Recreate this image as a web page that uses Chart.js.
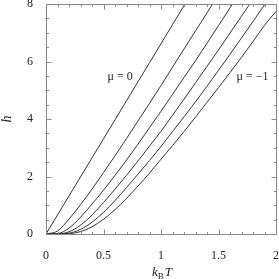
<!DOCTYPE html>
<html><head><meta charset="utf-8">
<script src="https://cdn.jsdelivr.net/npm/chart.js@4.4.1/dist/chart.umd.min.js"></script>
<style>html,body{margin:0;padding:0;background:#fff}#wrap{width:279px;height:279px}</style>
</head><body><div id="wrap"><canvas id="c" width="279" height="279"></canvas></div>
<script>
const temperatures = [0,0.1,0.2,0.3,0.4,0.5,0.6,0.7,0.8,0.9,1.0,1.1,1.2,1.3,1.4,1.5,1.6,1.7,1.8,1.9,2.0];
const hMu0  = [0,0.662,1.324,1.986,2.648,3.31,3.972,4.634,5.296,5.958,6.62,7.282,7.944,8.606,null,null,null,null,null,null,null];
const hMu02 = [0,0.103,0.520,1.019,1.562,2.135,2.721,3.316,3.932,4.546,5.164,5.800,6.435,7.065,7.690,8.320,null,null,null,null,null];
const hMu04 = [0,0.014,0.205,0.582,1.041,1.523,2.038,2.570,3.125,3.698,4.270,4.857,5.442,6.028,6.633,7.249,7.865,8.480,null,null,null];
const hMu06 = [0,0.002,0.077,0.308,0.662,1.094,1.561,2.039,2.542,3.056,3.575,4.129,4.687,5.260,5.832,6.405,6.991,7.576,8.162,null,null];
const hMu08 = [0,0,0.028,0.160,0.410,0.752,1.164,1.613,2.081,2.556,3.045,3.561,4.075,4.596,5.139,5.695,6.249,6.820,7.395,7.968,8.540];
const hMu10 = [0,0,0.010,0.082,0.252,0.513,0.846,1.237,1.668,2.121,2.602,3.073,3.563,4.062,4.582,5.094,5.614,6.145,6.697,7.257,7.74];
const seriesList = [hMu0,hMu02,hMu04,hMu06,hMu08,hMu10];
const xTickLabels = [0,0.5,1,1.5,2];
const yTickLabels = [0,2,4,6,8];
const xMinorTicks = [0.1,0.2,0.3,0.4,0.6,0.7,0.8,0.9,1.1,1.2,1.3,1.4,1.6,1.7,1.8,1.9];
const yMinorTicks = [0.5,1,1.5,2.5,3,3.5,4.5,5,5.5,6.5,7,7.5];
const curveLabels = [{text:'μ = 0', t:0.645, h:5.48},{text:'μ = −1', t:1.795, h:5.47}];

const FONT = '"Liberation Serif","DejaVu Serif",serif';

const datasets = seriesList.map(s => ({
  data: temperatures.map((t,i) => ({x:t, y:s[i]})),
  borderColor:'#333', borderWidth:1, pointRadius:0, showLine:true,
  cubicInterpolationMode:'monotone', fill:false, spanGaps:false
}));

const decor = {
  id:'decor',
  afterDraw(chart){
    const {ctx, chartArea:a, scales:{x,y}} = chart;
    const L=Math.floor(a.left)+0.5, R=Math.floor(a.right)+0.5, T=Math.floor(a.top)+0.5, B=Math.floor(a.bottom)+0.5;
    ctx.save();
    ctx.strokeStyle='#8a8a8a'; ctx.lineWidth=1;
    ctx.strokeRect(L,T,R-L,B-T);
    ctx.beginPath();
    const xt=(v,len)=>{const p=Math.round(x.getPixelForValue(v))+0.5; ctx.moveTo(p,B); ctx.lineTo(p,B-len); ctx.moveTo(p,T); ctx.lineTo(p,T+len);};
    const yt=(v,len)=>{const p=Math.round(y.getPixelForValue(v))+0.5; ctx.moveTo(L,p); ctx.lineTo(L+len,p); ctx.moveTo(R,p); ctx.lineTo(R-len,p);};
    xTickLabels.forEach(v=>xt(v,5)); xMinorTicks.forEach(v=>xt(v,2.5));
    yTickLabels.forEach(v=>yt(v,5)); yMinorTicks.forEach(v=>yt(v,2.5));
    ctx.stroke();
    ctx.fillStyle='#222';
    ctx.font='12px '+FONT; ctx.textAlign='center'; ctx.textBaseline='middle';
    curveLabels.forEach(c=>ctx.fillText(c.text, x.getPixelForValue(c.t), y.getPixelForValue(c.h)));
    // x title k_B T
    const cx=(a.left+a.right)/2+1, by=276;
    ctx.textAlign='left'; ctx.textBaseline='alphabetic';
    ctx.font='italic 13px '+FONT; const wk=ctx.measureText('k').width, wT=ctx.measureText('T').width;
    ctx.font='9px '+FONT; const wB=ctx.measureText('B').width;
    let sx=cx-(wk+wB+1+wT)/2;
    ctx.font='italic 13px '+FONT; ctx.fillText('k',sx,by); sx+=wk;
    ctx.font='9px '+FONT; ctx.fillText('B',sx,by+3); sx+=wB+1;
    ctx.font='italic 13px '+FONT; ctx.fillText('T',sx,by);
    ctx.restore();
  }
};

new Chart(document.getElementById('c'), {
  type:'scatter',
  data:{datasets},
  options:{
    responsive:false, animation:false, devicePixelRatio:1,
    layout:{padding:{top:4,right:3,left:0,bottom:0}},
    plugins:{legend:{display:false}, tooltip:{enabled:false}},
    scales:{
      x:{type:'linear', min:0, max:2,
        afterBuildTicks:s=>{s.ticks=xTickLabels.map(v=>({value:v}));},
        afterFit:s=>{s.height=45; s.paddingLeft=0; s.paddingRight=0;},
        grid:{display:false, drawTicks:false}, border:{display:false},
        ticks:{padding:15, color:'#222', font:{family:FONT, size:12}, maxRotation:0, callback:v=>String(v)}},
      y:{type:'linear', min:0, max:8,
        afterBuildTicks:s=>{s.ticks=yTickLabels.map(v=>({value:v}));},
        afterFit:s=>{s.width=46; s.paddingTop=0; s.paddingBottom=0;},
        grid:{display:false, drawTicks:false}, border:{display:false},
        ticks:{padding:13, color:'#222', font:{family:FONT, size:12}, callback:v=>String(v)},
        title:{display:true, text:'h', color:'#222', padding:0, font:{family:FONT, size:14, style:'italic', lineHeight:1}}}
    }
  },
  plugins:[decor]
});
</script></body></html>
